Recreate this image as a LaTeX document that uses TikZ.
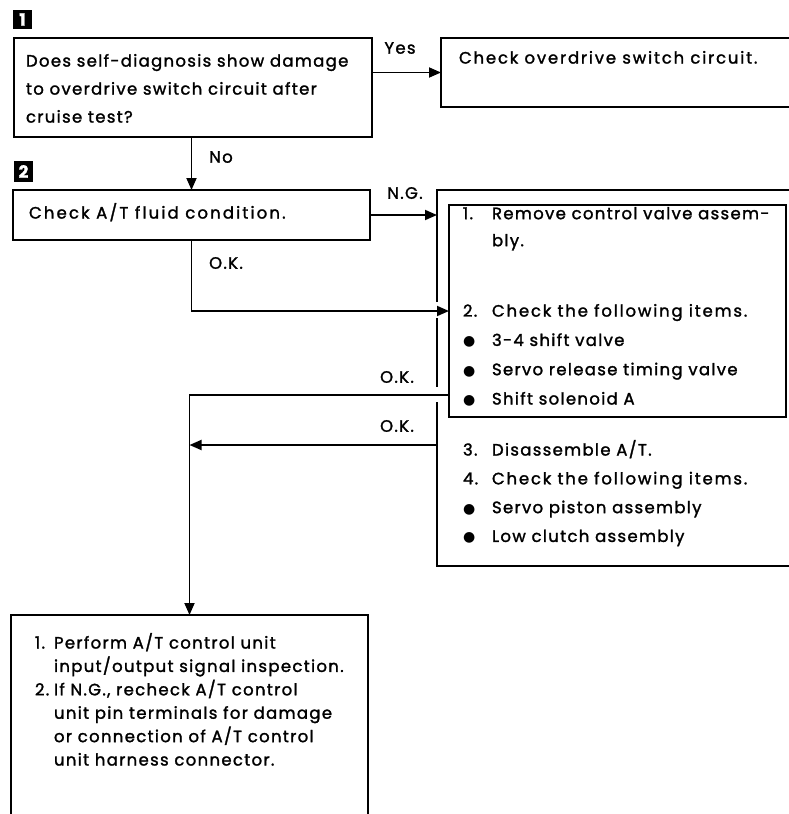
\documentclass[tikz,border=0pt]{standalone}
\usepackage{fontspec}
\setmainfont{Poppins}[FakeBold=1.6, LetterSpace=8]
\newfontfamily\widefont{Poppins}[FakeBold=1.6, LetterSpace=13]
\newfontfamily\midfont{Poppins}[FakeBold=1.6, LetterSpace=11]
\newfontfamily\bulletfont{DejaVu Sans}
\usetikzlibrary{arrows.meta,calc}
\newcommand{\numcol}[1]{\makebox[29pt][l]{#1}}
\newcommand{\numcolb}[1]{\makebox[19pt][l]{#1}}
\newcommand{\bul}{{\bulletfont\fontsize{14}{14}\selectfont ●}}
\begin{document}
\begin{tikzpicture}[x=1pt,y=-1pt,
  every node/.style={inner sep=0pt, outer sep=0pt},
  box/.style={draw, line width=1.8pt, rectangle, anchor=north west},
  txt/.style={anchor=north west, align=left, font=\fontsize{16.5}{28}\selectfont},
  lbl/.style={font=\fontsize{16.5}{20}\selectfont},
  conn/.style={line width=1.8pt},
  arr/.style={conn, -{Triangle[length=12pt,width=10pt]}},
  marker/.style={fill=black, text=white, font=\bfseries\fontsize{17}{17}\selectfont, minimum width=19pt, minimum height=19pt, anchor=north west}
]
\useasboundingbox (0,0) rectangle (789,814);
\clip (0,0) rectangle (789,814);

% markers
\node[marker] (m1) at (13,10) {1};
\node[marker, minimum height=21pt] (m2) at (14,161) {2};

% boxes
\node[box, minimum width=358pt, minimum height=99pt] (b1) at (14,38) {};
\node[box, minimum width=360pt, minimum height=69pt] (b2) at (441,38) {};
\node[box, minimum width=357pt, minimum height=50pt] (b3) at (13,190) {};
\node[box, draw=none, minimum width=360pt, minimum height=376pt] (outer) at (437,190) {};
\node[box, minimum width=337pt, minimum height=212pt] (inner) at (449,205) {};
\node[box, minimum width=357pt, minimum height=220pt] (b5) at (11,615) {};

% outer box outline with gaps where connectors cross
\draw[conn] ($(outer.north west)+(0,112)$) -- (outer.north west) -- (outer.north east);
\draw[conn] ($(outer.north west)+(0,128)$) -- ($(outer.north west)+(0,197)$);
\draw[conn] ($(outer.north west)+(0,212)$) -- (outer.south west) -- (outer.south east);

% texts
\node[txt] (t1) at (26,54) {Does self-diagnosis show damage\\to overdrive switch circuit after\\cruise test?};
\node[txt, font=\midfont\fontsize{16.5}{28}\selectfont] (t2) at (459,51) {Check overdrive switch circuit.};
\node[txt, font=\widefont\fontsize{16.5}{28}\selectfont] (t3) at (29,203) {Check A/T fluid condition.};
\node[txt, font=\fontsize{16.5}{27}\selectfont] (i1) at (463,207) {\numcol{1.}Remove control valve assem-\\\numcol{}bly.};
\node[txt, font=\fontsize{16.5}{29.3}\selectfont] (i2) at (463,304) {\numcol{2.}{\midfont Check the following items.}\\\numcol{\bul}3-4 shift valve\\\numcol{\bul}Servo release timing valve\\\numcol{\bul}Shift solenoid A};
\node[txt, font=\fontsize{16.5}{28.8}\selectfont] (i3) at (463,440) {\numcol{3.}Disassemble A/T.\\\numcol{4.}{\midfont Check the following items.}\\\numcol{\bul}Servo piston assembly\\\numcol{\bul}Low clutch assembly};
\node[txt, font=\fontsize{16.5}{23.4}\selectfont] (t5) at (35,633) {\numcolb{1.}Perform A/T control unit\\\numcolb{}input/output signal inspection.\\\numcolb{2.}If N.G., recheck A/T control\\\numcolb{}unit pin terminals for damage\\\numcolb{}or connection of A/T control\\\numcolb{}unit harness connector.};

% labels
\node[lbl] (lyes) at (400,48) {Yes};
\node[lbl] (lno) at (221,157) {No};
\node[lbl] (lng) at (405,193) {N.G.};
\node[lbl] (lok1) at (226,263) {O.K.};
\node[lbl] (lok2) at (397,377) {O.K.};
\node[lbl] (lok3) at (397,426) {O.K.};

% connectors
\draw[arr] (b1.east |- b2.west) -- (b2.west);
\draw[arr] (b1.south -| b3.north) -- (b3.north);
\draw[arr] (b3.east) -- (b3.east -| outer.west);
\draw[arr] (b3.south) |- (inner.west);
\coordinate (okm) at ($(inner.south west)+(0,-22)$);
\draw[arr] (okm) -| (b5.north);
\coordinate (okl) at ($(outer.north west)+(0,255)$);
\draw[arr] (okl) -- (okl -| b5.north);
\end{tikzpicture}
\end{document}
